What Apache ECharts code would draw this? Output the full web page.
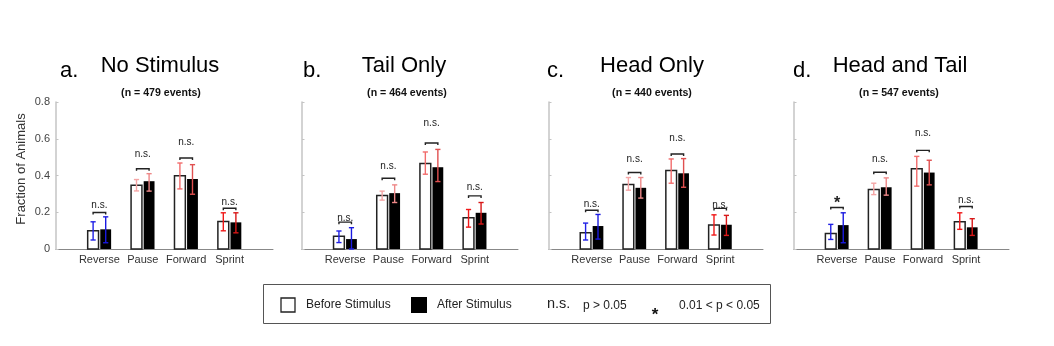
<!DOCTYPE html>
<html>
<head>
<meta charset="utf-8">
<script src="https://cdn.jsdelivr.net/npm/echarts@6/dist/echarts.min.js"></script>
<style>
html,body{margin:0;padding:0;background:#fff;}
#chart{width:1054px;height:346px;}
</style>
</head>
<body>
<div id="chart"></div>
<script>
// ---------- DATA ----------
const categories = ['Reverse', 'Pause', 'Forward', 'Sprint'];
const panelLetters = ['a.', 'b.', 'c.', 'd.'];
const panelTitles = ['No Stimulus', 'Tail Only', 'Head Only', 'Head and Tail'];
const eventCounts = [479, 464, 440, 547];
const yTicks = [0, 0.2, 0.4, 0.6, 0.8];

const beforeMean = [
  [0.100, 0.347, 0.398, 0.150],
  [0.070, 0.291, 0.465, 0.170],
  [0.088, 0.351, 0.427, 0.130],
  [0.085, 0.324, 0.437, 0.148]
];
const afterMean = [
  [0.107, 0.369, 0.381, 0.145],
  [0.054, 0.304, 0.445, 0.197],
  [0.125, 0.333, 0.412, 0.132],
  [0.130, 0.336, 0.416, 0.118]
];
const beforeLow = [
  [0.049, 0.316, 0.327, 0.099],
  [0.035, 0.266, 0.407, 0.119],
  [0.049, 0.320, 0.358, 0.076],
  [0.052, 0.296, 0.342, 0.107]
];
const beforeHigh = [
  [0.148, 0.378, 0.468, 0.197],
  [0.098, 0.315, 0.528, 0.215],
  [0.141, 0.389, 0.490, 0.186],
  [0.134, 0.358, 0.504, 0.197]
];
const afterLow = [
  [0.034, 0.315, 0.298, 0.088],
  [0.000, 0.253, 0.367, 0.136],
  [0.054, 0.277, 0.336, 0.074],
  [0.034, 0.293, 0.349, 0.074]
];
const afterHigh = [
  [0.175, 0.410, 0.459, 0.197],
  [0.116, 0.349, 0.542, 0.253],
  [0.188, 0.389, 0.492, 0.183],
  [0.197, 0.387, 0.483, 0.165]
];
const bracketY = [
  [0.199, 0.437, 0.495, 0.222],
  [0.146, 0.385, 0.577, 0.289],
  [0.211, 0.416, 0.517, 0.221],
  [0.226, 0.418, 0.537, 0.231]
];
const sigLabelY = [
  [0.237, 0.515, 0.580, 0.255],
  [0.166, 0.448, 0.682, 0.338],
  [0.242, 0.486, 0.604, 0.239],
  [0.266, 0.488, 0.631, 0.266]
];
const sigLabels = [
  ['n.s.', 'n.s.', 'n.s.', 'n.s.'],
  ['n.s.', 'n.s.', 'n.s.', 'n.s.'],
  ['n.s.', 'n.s.', 'n.s.', 'n.s.'],
  ['*', 'n.s.', 'n.s.', 'n.s.']
];

// ---------- STYLE / LAYOUT ----------
const FONT = '"Liberation Sans", Arial, Helvetica, sans-serif';
const errColorBefore = ['#2020e6', '#f5a5a5', '#f26c6c', '#f01818'];
const errColorAfter  = ['#1a1ae0', '#ee8888', '#e05050', '#d81818'];
const gridLeft = [56, 302, 549, 794];
const gridWidth = [217, 216, 214, 215];
const letterX = [60, 303, 547, 793];
const titleX = [160, 404, 652, 900];
const subX = [161, 407, 652, 899];

const chart = echarts.init(document.getElementById('chart'));

function makeRender(p) {
  return function (params, api) {
    const i = params.dataIndex;
    const c = api.value(0);
    const unit = api.size([1, 0])[0];
    const bw = unit * 0.25, off = unit * 0.145, cap = 2.6;
    const base = api.coord([c, 0]);
    const xB = base[0] - off, xA = base[0] + off;
    const yB = api.coord([c, api.value(1)])[1];
    const yA = api.coord([c, api.value(2)])[1];
    const yBl = api.coord([c, api.value(3)])[1];
    const yBh = api.coord([c, api.value(4)])[1];
    const yAl = api.coord([c, api.value(5)])[1];
    const yAh = api.coord([c, api.value(6)])[1];
    const yBr = api.coord([c, api.value(7)])[1];
    const yLab = api.coord([c, api.value(8)])[1];
    const children = [];
    children.push({type: 'rect', shape: {x: xB - bw / 2, y: yB, width: bw, height: base[1] - yB},
      style: {fill: '#fff', stroke: '#222', lineWidth: 1.5}});
    children.push({type: 'rect', shape: {x: xA - bw / 2, y: yA, width: bw, height: base[1] - yA},
      style: {fill: '#000'}});
    function err(x, lo, hi, col) {
      const st = {stroke: col, lineWidth: 1.4};
      children.push({type: 'line', shape: {x1: x, y1: lo, x2: x, y2: hi}, style: st});
      children.push({type: 'line', shape: {x1: x - cap, y1: lo, x2: x + cap, y2: lo}, style: st});
      children.push({type: 'line', shape: {x1: x - cap, y1: hi, x2: x + cap, y2: hi}, style: st});
    }
    err(xB, yBl, yBh, errColorBefore[i]);
    err(xA, yAl, yAh, errColorAfter[i]);
    children.push({type: 'polyline', shape: {points: [[xB, yBr + 2], [xB, yBr], [xA, yBr], [xA, yBr + 2]]},
      style: {stroke: '#222', lineWidth: 1.4, fill: null}});
    const lab = sigLabels[p][i];
    const isStar = lab === '*';
    children.push({type: 'text', style: {text: lab, x: base[0], y: isStar ? yLab + 3 : yLab,
      textAlign: 'center', textVerticalAlign: 'middle',
      font: isStar ? 'bold 16px ' + FONT : '10px ' + FONT, fill: '#222'}});
    return {type: 'group', children: children};
  };
}

const grids = [], xAxes = [], yAxes = [], series = [], graphics = [];
for (let p = 0; p < 4; p++) {
  grids.push({left: gridLeft[p], width: gridWidth[p], top: 102, height: 147});
  xAxes.push({
    type: 'value', gridIndex: p, min: 0, max: 5, interval: 1,
    axisLine: {show: true, lineStyle: {color: '#888', width: 1}},
    axisTick: {show: false}, splitLine: {show: false},
    axisLabel: {
      color: '#333', fontSize: 11, fontFamily: FONT, margin: 5,
      formatter: v => (v >= 1 && v <= 4 ? categories[v - 1] : '')
    }
  });
  yAxes.push({
    type: 'value', gridIndex: p, min: 0, max: 0.8, interval: 0.2,
    axisLine: {show: true, lineStyle: {color: '#c4c4c4', width: 1.5}},
    axisTick: {show: true, inside: true, length: 2.5, lineStyle: {color: '#c4c4c4'}},
    splitLine: {show: false},
    axisLabel: {
      show: p === 0, color: '#444', fontSize: 11, fontFamily: FONT, margin: 6,
      formatter: v => { const k = yTicks.findIndex(t => Math.abs(t - v) < 1e-9); return k >= 0 ? String(yTicks[k]) : ''; }
    }
  });
  const data = categories.map((c, i) => [i + 1, beforeMean[p][i], afterMean[p][i],
    beforeLow[p][i], beforeHigh[p][i], afterLow[p][i], afterHigh[p][i], bracketY[p][i], sigLabelY[p][i]]);
  series.push({
    type: 'custom', xAxisIndex: p, yAxisIndex: p, data: data, clip: false,
    encode: {x: 0, y: [1, 2]}, renderItem: makeRender(p), silent: true
  });
  graphics.push({type: 'text', style: {text: panelLetters[p], x: letterX[p], y: 70.5,
    textAlign: 'left', textVerticalAlign: 'middle', font: '22px ' + FONT, fill: '#000'}});
  graphics.push({type: 'text', style: {text: panelTitles[p], x: titleX[p], y: 65.5,
    textAlign: 'center', textVerticalAlign: 'middle', font: '22px ' + FONT, fill: '#000'}});
  graphics.push({type: 'text', style: {text: '(n = ' + eventCounts[p] + ' events)', x: subX[p], y: 93,
    textAlign: 'center', textVerticalAlign: 'middle', font: 'bold 10.6px ' + FONT, fill: '#111'}});
}

// y axis name
graphics.push({type: 'text', x: 21.5, y: 169, rotation: Math.PI / 2,
  style: {text: 'Fraction of Animals', x: 0, y: 0, textAlign: 'center', textVerticalAlign: 'middle',
    font: '13px ' + FONT, fill: '#333'}});

// legend box
graphics.push({type: 'rect', shape: {x: 263.5, y: 284.5, width: 507, height: 39},
  style: {fill: '#fff', stroke: '#555', lineWidth: 1}});
graphics.push({type: 'rect', shape: {x: 281, y: 298, width: 14, height: 14},
  style: {fill: '#fff', stroke: '#222', lineWidth: 1.3}});
graphics.push({type: 'text', style: {text: 'Before Stimulus', x: 306, y: 305, textAlign: 'left',
  textVerticalAlign: 'middle', font: '12px ' + FONT, fill: '#222'}});
graphics.push({type: 'rect', shape: {x: 411, y: 297, width: 16, height: 16}, style: {fill: '#000'}});
graphics.push({type: 'text', style: {text: 'After Stimulus', x: 437, y: 305, textAlign: 'left',
  textVerticalAlign: 'middle', font: '12px ' + FONT, fill: '#222'}});
graphics.push({type: 'text', style: {text: 'n.s.', x: 547, y: 304, textAlign: 'left',
  textVerticalAlign: 'middle', font: '14.5px ' + FONT, fill: '#222'}});
graphics.push({type: 'text', style: {text: 'p > 0.05', x: 583, y: 305.5, textAlign: 'left',
  textVerticalAlign: 'middle', font: '12px ' + FONT, fill: '#222'}});
graphics.push({type: 'text', style: {text: '*', x: 655, y: 315, textAlign: 'center',
  textVerticalAlign: 'middle', font: 'bold 17px ' + FONT, fill: '#111'}});
graphics.push({type: 'text', style: {text: '0.01 < p < 0.05', x: 679, y: 305.5, textAlign: 'left',
  textVerticalAlign: 'middle', font: '12px ' + FONT, fill: '#222'}});

chart.setOption({
  animation: false,
  backgroundColor: '#fff',
  grid: grids,
  xAxis: xAxes,
  yAxis: yAxes,
  series: series,
  graphic: graphics
});
</script>
</body>
</html>
